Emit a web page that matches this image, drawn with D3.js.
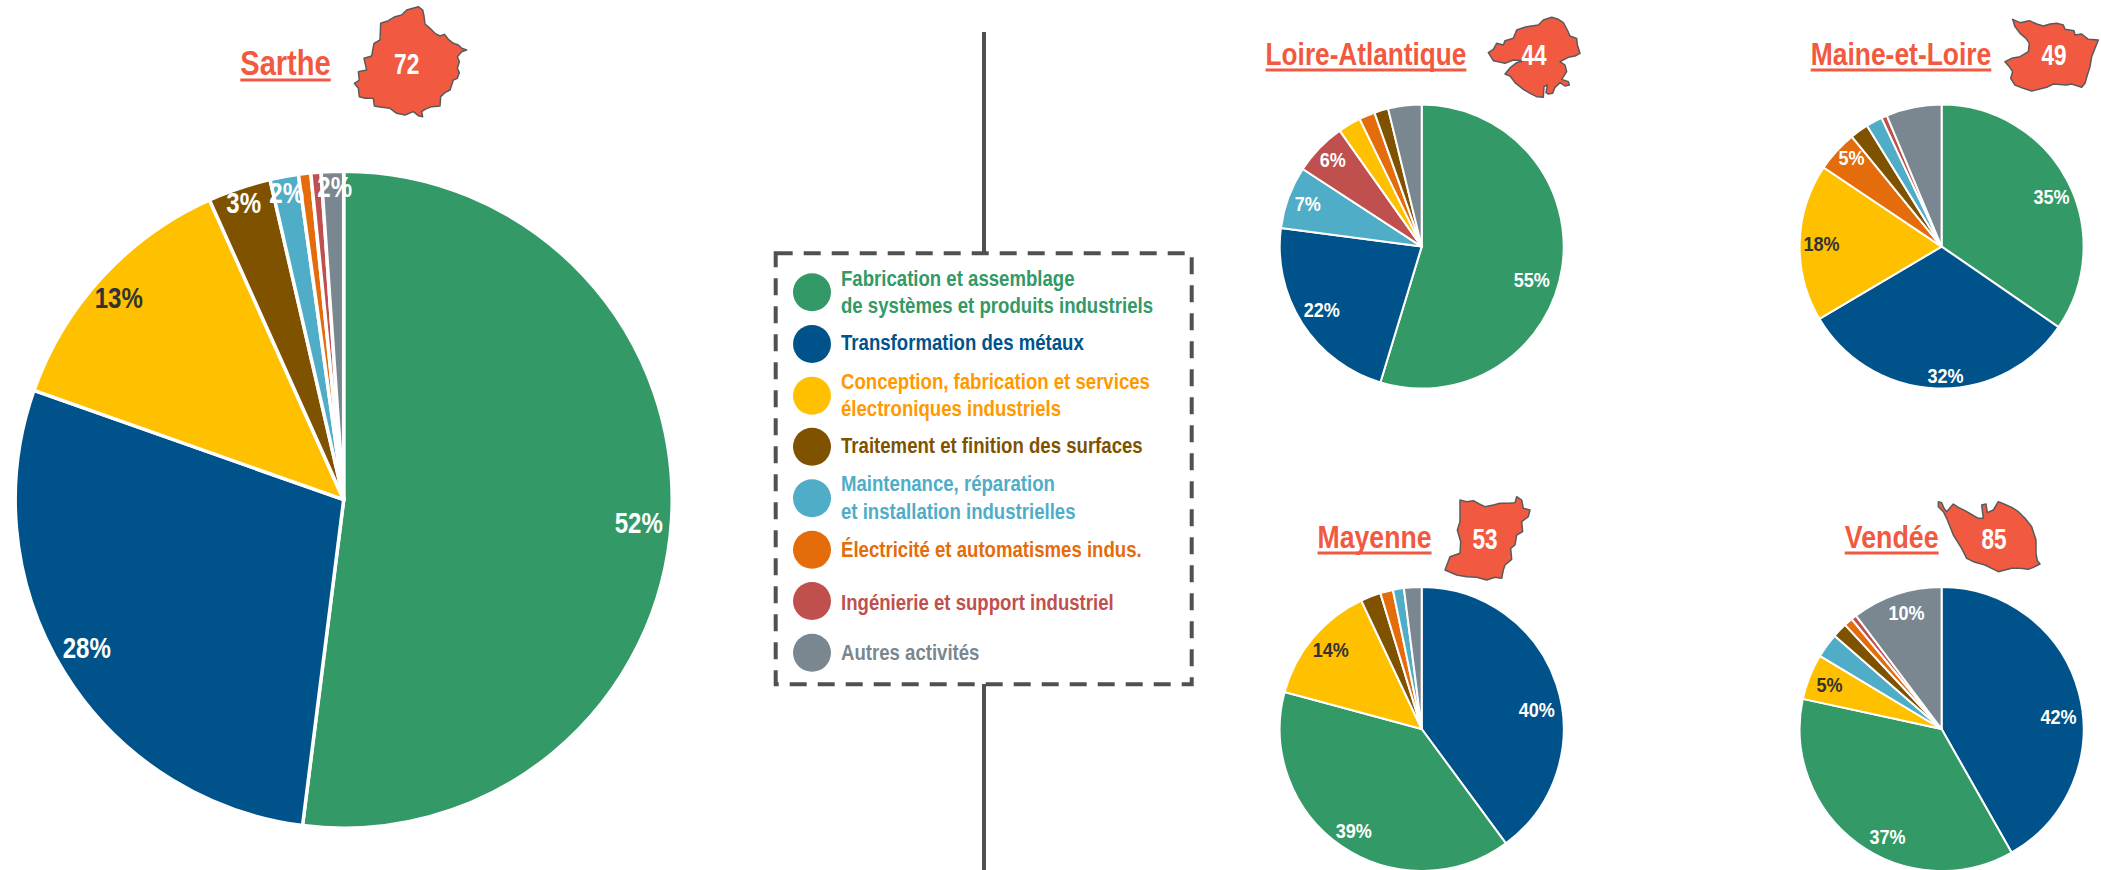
<!DOCTYPE html>
<html><head><meta charset="utf-8">
<script src="https://cdn.jsdelivr.net/npm/d3@7"></script>
<style>
html,body{margin:0;padding:0;background:#fff;overflow:hidden}
text{font-family:"Liberation Sans",Arial,sans-serif;font-weight:700}
</style></head><body><svg id="c" width="2101" height="870"></svg>
<script>
// ---- categories
const categories = ["fab","metal","elec","surf","maint","auto","ing","autres"];
const categoryColors = ["#339966","#00538a","#ffc000","#7f5200","#4fadc7","#e46c0a","#c0504d","#7a8790"];
const legendLines = [
  ["Fabrication et assemblage","de systèmes et produits industriels"],
  ["Transformation des métaux"],
  ["Conception, fabrication et services","électroniques industriels"],
  ["Traitement et finition des surfaces"],
  ["Maintenance, réparation","et installation industrielles"],
  ["Électricité et automatismes indus."],
  ["Ingénierie et support industriel"],
  ["Autres activités"]];
const legendTextColors = ["#339966","#00538a","#ff9900","#7f5200","#4fadc7","#e46c0a","#c0504d","#7a8790"];

// ---- series (slice order clockwise from 12 o'clock, shares in %)
const sartheOrder = ["fab","metal","elec","surf","maint","auto","ing","autres"];
const sartheValues = [52.0,28.4,12.9,3.1,1.4,0.6,0.5,1.1];
const sartheLabels = ["52%","28%","13%","3%","2%","","","2%"];
const loireOrder = ["fab","metal","maint","ing","elec","auto","surf","autres"];
const loireValues = [54.7,22.4,7.1,6.0,2.6,1.8,1.6,3.8];
const loireLabels = ["55%","22%","7%","6%","","","",""];
const maineOrder = ["fab","metal","elec","auto","surf","maint","ing","autres"];
const maineValues = [34.6,31.9,17.9,4.7,2.1,1.85,0.65,6.3];
const maineLabels = ["35%","32%","18%","5%","","","",""];
const mayenneOrder = ["metal","fab","elec","surf","auto","maint","autres"];
const mayenneValues = [39.9,39.3,13.8,2.3,1.45,1.25,2.0];
const mayenneLabels = ["40%","39%","14%","","","",""];
const vendeeOrder = ["metal","fab","elec","maint","surf","auto","ing","autres"];
const vendeeValues = [41.8,36.6,5.2,2.8,1.7,1.0,0.6,10.3];
const vendeeLabels = ["42%","37%","5%","","","","","10%"];

// ---- label placement relative to each pie centre (layout only)
const sartheLabelPos = [[295,23],[-257,148],[-225,-202],[-100,-297],[-57,-307],null,null,[-9,-313]];
const loireLabelPos = [[110,33],[-100,63],[-114,-43],[-89,-87]];
const maineLabelPos = [[110,-50],[4,129],[-120,-3],[-90,-89]];
const mayenneLabelPos = [[115,-19],[-68,102],[-91,-79]];
const vendeeLabelPos = [[117,-12],[-54,108],[-112,-44],null,null,null,null,[-35,-116]];

// ---- department outlines (traced, in local map units)
const outline72 = [[205,20],[218,30],[222,48],[225,72],[240,85],[255,100],[270,108],[283,103],[295,118],[310,130],[325,135],[335,145],[350,150],[335,155],[322,170],[328,185],[322,205],[328,218],[322,235],[310,240],[300,270],[285,278],[272,290],[270,318],[245,320],[225,328],[215,335],[218,350],[205,347],[190,335],[165,345],[140,340],[120,325],[95,322],[73,318],[70,295],[45,295],[28,290],[25,265],[13,250],[28,240],[25,215],[50,210],[42,175],[65,168],[72,130],[90,120],[92,70],[115,62],[135,50],[155,45],[170,30]];
const outline44 = [[215,22],[235,28],[250,38],[262,60],[270,78],[290,85],[292,105],[300,130],[285,138],[265,142],[240,155],[255,165],[260,185],[245,208],[265,215],[268,225],[255,228],[240,218],[225,232],[218,250],[205,252],[198,248],[202,225],[192,230],[190,262],[170,260],[150,250],[130,238],[105,218],[90,198],[75,192],[92,172],[110,158],[130,152],[100,150],[75,160],[55,155],[40,152],[25,128],[40,118],[50,100],[70,105],[75,92],[100,85],[110,60],[140,50],[175,45],[190,30]];
const outline49 = [[38,28],[60,38],[88,32],[110,42],[130,48],[150,42],[170,40],[190,45],[195,58],[222,62],[225,75],[245,72],[265,88],[295,90],[285,115],[275,140],[270,170],[262,195],[255,220],[245,232],[215,222],[200,225],[160,222],[140,232],[95,243],[70,235],[45,225],[32,205],[38,185],[28,170],[15,155],[35,145],[60,140],[85,125],[88,100],[78,85],[60,70],[45,50]];
const outline53 = [[60,30],[80,35],[100,32],[118,42],[135,50],[160,45],[180,40],[205,40],[225,38],[230,20],[245,30],[250,55],[270,60],[265,80],[245,95],[248,125],[230,135],[225,165],[212,175],[215,208],[195,225],[190,240],[185,265],[165,262],[140,270],[110,262],[80,260],[50,255],[15,240],[30,200],[60,190],[62,155],[52,120],[60,95]];
const outline85 = [[25,35],[35,38],[42,55],[50,65],[70,42],[85,52],[105,62],[122,72],[145,85],[160,85],[155,45],[168,42],[172,68],[190,60],[205,35],[222,42],[245,52],[265,65],[285,85],[305,110],[318,150],[318,190],[322,212],[330,222],[310,232],[295,238],[270,235],[245,235],[205,245],[185,235],[165,225],[130,215],[110,205],[95,175],[70,135],[50,85],[40,65],[25,50]];

// ---- layout
const TITLE = "#f15a40", R_BIG = 328.5, R_SMALL = 142;
const panels = [
 {name:"Sarthe",num:"72",order:sartheOrder,values:sartheValues,labels:sartheLabels,pos:sartheLabelPos,cx:343.7,cy:499.7,r:R_BIG,sw:3.5,fs:29,fx:.83,
  tx:285.5,tb:75,tfs:35,tfx:.83,outline:outline72,ox:350,oy:0,nx:406.7,ny:63,nfs:30,nfx:.76},
 {name:"Loire-Atlantique",num:"44",order:loireOrder,values:loireValues,labels:loireLabels,pos:loireLabelPos,cx:1421.7,cy:246.6,r:R_SMALL,sw:2,fs:21,fx:.86,
  tx:1366,tb:65,tfs:31,tfx:.845,outline:outline44,ox:1480,oy:10,nx:1534,ny:55,nfs:29,nfx:.78},
 {name:"Maine-et-Loire",num:"49",order:maineOrder,values:maineValues,labels:maineLabels,pos:maineLabelPos,cx:1941.6,cy:246.6,r:R_SMALL,sw:2,fs:21,fx:.86,
  tx:1901,tb:65,tfs:31,tfx:.853,outline:outline49,ox:2000,oy:10,nx:2054,ny:55,nfs:29,nfx:.78},
 {name:"Mayenne",num:"53",order:mayenneOrder,values:mayenneValues,labels:mayenneLabels,pos:mayenneLabelPos,cx:1421.7,cy:729,r:R_SMALL,sw:2,fs:21,fx:.86,
  tx:1374.5,tb:548,tfs:31,tfx:.86,outline:outline53,ox:1440,oy:490,nx:1485,ny:539,nfs:29,nfx:.78},
 {name:"Vendée",num:"85",order:vendeeOrder,values:vendeeValues,labels:vendeeLabels,pos:vendeeLabelPos,cx:1941.6,cy:729,r:R_SMALL,sw:2,fs:21,fx:.86,
  tx:1891.7,tb:548,tfs:31,tfx:.865,outline:outline85,ox:1930,oy:490,nx:1994,ny:539,nfs:29,nfx:.78}
];
const color = d3.scaleOrdinal(categories, categoryColors);
const svg = d3.select("#c");
const narrow = (x,y,k)=>`translate(${x},${y}) scale(${k},1)`;

// centre divider and dashed legend frame
const INK = "#505050";
svg.selectAll("line.div").data([[32,253],[684,870]]).join("line").attr("class","div")
  .attr("x1",984).attr("x2",984).attr("y1",d=>d[0]).attr("y2",d=>d[1])
  .attr("stroke",INK).attr("stroke-width",4);
svg.append("rect").attr("x",775.7).attr("y",253.3).attr("width",416).attr("height",431)
  .attr("fill","none").attr("stroke",INK).attr("stroke-width",4).attr("stroke-dasharray","17 11");

// legend
const legendCy = [292.3,344,395.7,446.7,498.3,549.7,601,652.7];
const legendBase = [[285.7,312.7],[350],[389,415.7],[452.7],[491,518.7],[556.7],[610],[660]];
const lg = svg.append("g");
lg.selectAll("circle").data(categories).join("circle")
  .attr("cx",812).attr("cy",(d,i)=>legendCy[i]).attr("r",19).attr("fill",d=>color(d));
legendLines.forEach((lines,i)=>{
  lg.selectAll(null).data(lines).join("text")
    .attr("transform",(d,j)=>narrow(841,legendBase[i][j],.865))
    .attr("fill",legendTextColors[i]).attr("font-size",21.5).text(d=>d);
});

// pies
const unit = d3.scaleLinear().domain([0,3]).range([0,1]);
const mapLine = d3.line().x(d=>unit(d[0])).y(d=>unit(d[1])).curve(d3.curveLinearClosed);
panels.forEach(p=>{
  const pie = d3.pie().sort(null).value(d=>d.v);
  const rows = p.order.map((k,i)=>({k,v:p.values[i],l:p.labels[i],pos:p.pos[i]}));
  const arc = d3.arc().innerRadius(0).outerRadius(p.r);
  const g = svg.append("g").attr("transform",`translate(${p.cx},${p.cy})`);
  g.selectAll("path").data(pie(rows)).join("path")
    .attr("d",arc).attr("fill",d=>color(d.data.k))
    .attr("stroke","#fff").attr("stroke-width",p.sw).attr("stroke-linejoin","round");
  g.selectAll("text").data(rows.filter(d=>d.l&&d.pos)).join("text")
    .attr("transform",d=>narrow(d.pos[0],d.pos[1],p.fx)).attr("dy","0.35em").attr("text-anchor","middle")
    .attr("font-size",p.fs)
    .attr("fill",d=>d.k==="elec"?"#333333":"#fff").text(d=>d.l);

  // title with underline
  const t = svg.append("text").attr("transform",narrow(p.tx,p.tb,p.tfx)).attr("text-anchor","middle")
    .attr("font-size",p.tfs).attr("fill",TITLE).text(p.name);
  const w = t.node().getComputedTextLength()*p.tfx;
  svg.append("line").attr("x1",p.tx-w/2).attr("x2",p.tx+w/2).attr("y1",p.tb+5).attr("y2",p.tb+5)
    .attr("stroke",TITLE).attr("stroke-width",3);

  // department silhouette with its number
  svg.append("g").attr("transform",`translate(${p.ox},${p.oy})`).append("path")
    .attr("d",mapLine(p.outline)).attr("fill",TITLE).attr("stroke","#5a5a5a").attr("stroke-width",1.5).attr("stroke-linejoin","round");
  svg.append("text").attr("transform",narrow(p.nx,p.ny,p.nfx)).attr("dy","0.35em").attr("text-anchor","middle")
    .attr("font-size",p.nfs).attr("fill","#fff").text(p.num);
});
</script></body></html>
